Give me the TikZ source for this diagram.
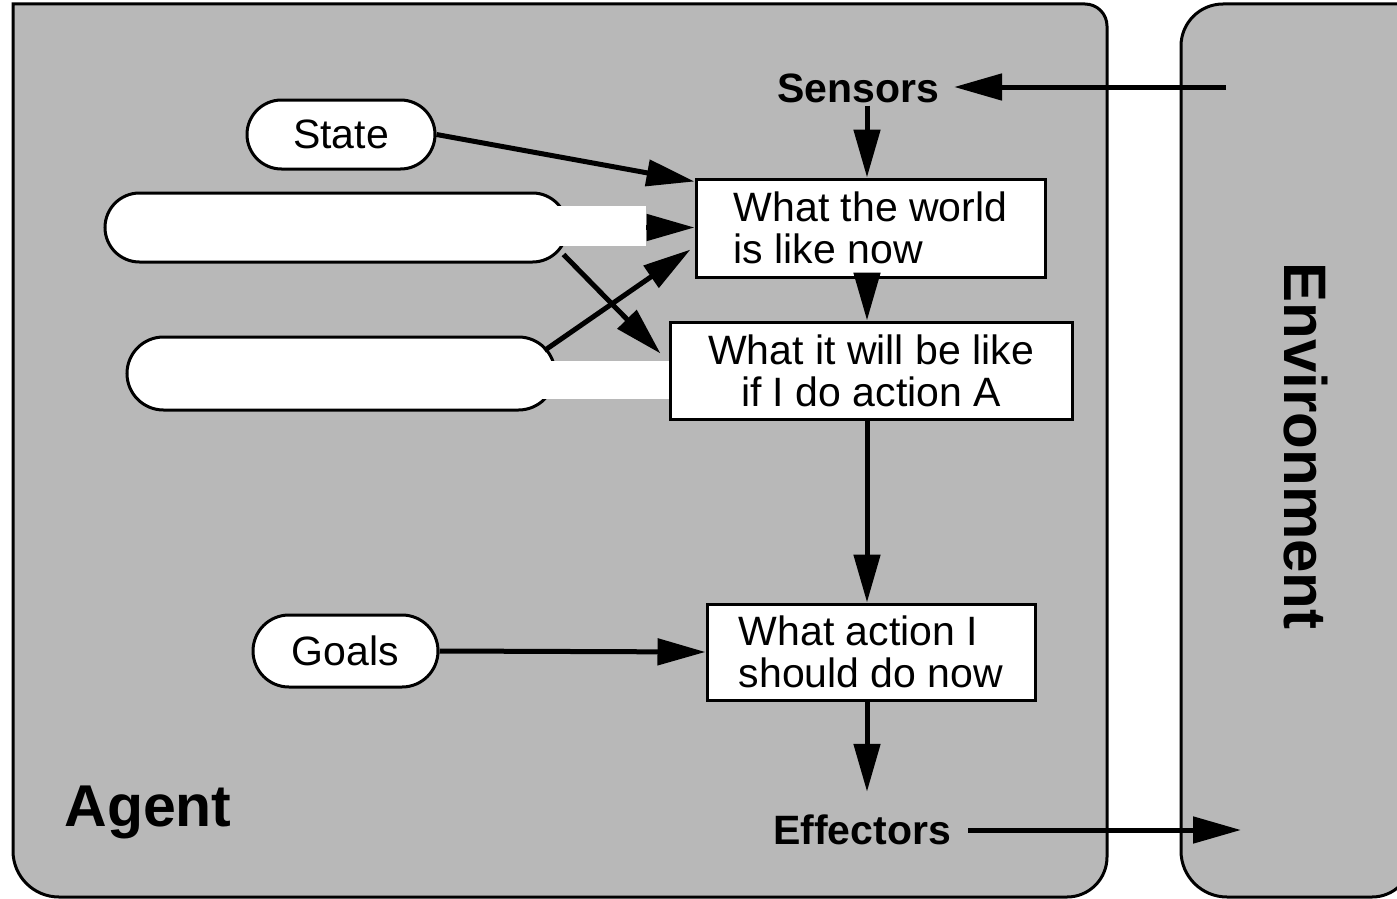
\documentclass[tikz,border=0pt]{standalone}
\usepackage{fontspec}
\setmainfont{Liberation Sans}
\usetikzlibrary{arrows.meta,shapes.misc,calc}

\begin{document}
\begin{tikzpicture}[x=1pt,y=-1pt,
  panel/.style={draw=black, line width=3pt, fill=black!28},
  pill/.style={rounded rectangle, draw=black, line width=3pt, fill=white,
    inner sep=0pt, font=\fontsize{41}{42}\selectfont},
  procbox/.style={rectangle, draw=black, line width=3pt, fill=white,
    inner sep=0pt, align=left, font=\fontsize{41}{42}\selectfont},
  label/.style={font=\bfseries\fontsize{41}{42}\selectfont, inner sep=3pt},
  arr/.style={line width=5pt, -{Triangle[length=48pt,width=26pt]}},
  gapbar/.style={fill=white, draw=none}]

\useasboundingbox (0,0) rectangle (1397,899);
\fill[white] (0,0) rectangle (1397,899);

% agent panel, corners of different sizes
\draw[panel] (13,450) [sharp corners] -- (13,4) [rounded corners=22pt] -- (1107,4)
  [rounded corners=40pt] -- (1107,897) [rounded corners=46pt] -- (13,897)
  [rounded corners=30pt] -- cycle;

% environment panel, running off the right edge
\begin{scope}
  \clip (0,0) rectangle (1397,899);
  \draw[panel] (1300,4) [sharp corners] -- (1412,4) [rounded corners=40pt] -- (1412,897)
    [rounded corners=46pt] -- (1181,897) [rounded corners=42pt] -- (1181,4)
    [rounded corners=40pt] -- cycle;
\end{scope}

% titles of the two panels
\node[font=\bfseries\fontsize{59}{60}\selectfont] (agent) at (148,812) {Agent};
\node[font=\bfseries\fontsize{60}{60}\selectfont, rotate=-90] (env) at (1306,446) {Environment};

% internal state and goal pills
\node[pill, minimum width=188pt, minimum height=69pt] (state) at (341,134.5) {State};
\node[pill, minimum width=462pt, minimum height=69pt] (p1) at (336,227.5) {};
\node[pill, minimum width=428pt, minimum height=73pt] (p2) at (341,373.5) {};
\node[pill, minimum width=185pt, minimum height=72pt] (goals) at (345.5,651) {Goals};

% white band joining the lower pill to the prediction box
\fill[gapbar] (530,361) rectangle (671,399);

% processing boxes
\node[procbox, minimum width=349pt, minimum height=98pt]
  (b1) at (870.5,228) {What the world\\is like now};
\node[procbox, minimum width=402pt, minimum height=97pt, align=center]
  (b2) at (871,370.5) {What it will be like\\if I do action A};
\node[procbox, minimum width=328pt, minimum height=96pt]
  (b3) at (871,652) {What action I\\should do now};

% sensor and effector labels
\node[label] (sens) at (858,88) {Sensors};
\node[label] (eff) at (862,830) {Effectors};

% connector column and panel-side end points
\coordinate (col) at (867,0);
\coordinate (envin) at (1226,87);
\coordinate (envout) at (1241,830);

% percepts in, actions out
\draw[arr] (envin) -- ([xshift=12pt]sens.east |- envin);
\draw[arr] ([xshift=14pt]eff.east) -- (envout);

% main vertical flow
\draw[arr] (sens.south -| col) -- (b1.north -| col);
\draw[arr] (b1.south -| col) -- (b2.north -| col);
\draw[arr] (b2.south -| col) -- (b3.north -| col);
\draw[arr, shorten >=20pt] (b3.south -| col) -- (eff.north -| col);

% inputs from the left
\draw[arr] (state.east) -- ([yshift=-4pt]b1.north west);
\draw[arr] (p1.east) -- (b1.west |- p1.east);
\draw[arr] ($(p1.east)+(-5,27)$) -- ($(b2.west)+(-8,-17)$);
\draw[arr] ($(p2.east)+(-12,-23)$) -- ($(b1.south west)+(-4,-29)$);
\draw[arr] (goals.east) -- (b3.west);

% white band over the upper pill's link
\fill[gapbar] (545,206) rectangle (646,246);

\end{tikzpicture}
\end{document}
